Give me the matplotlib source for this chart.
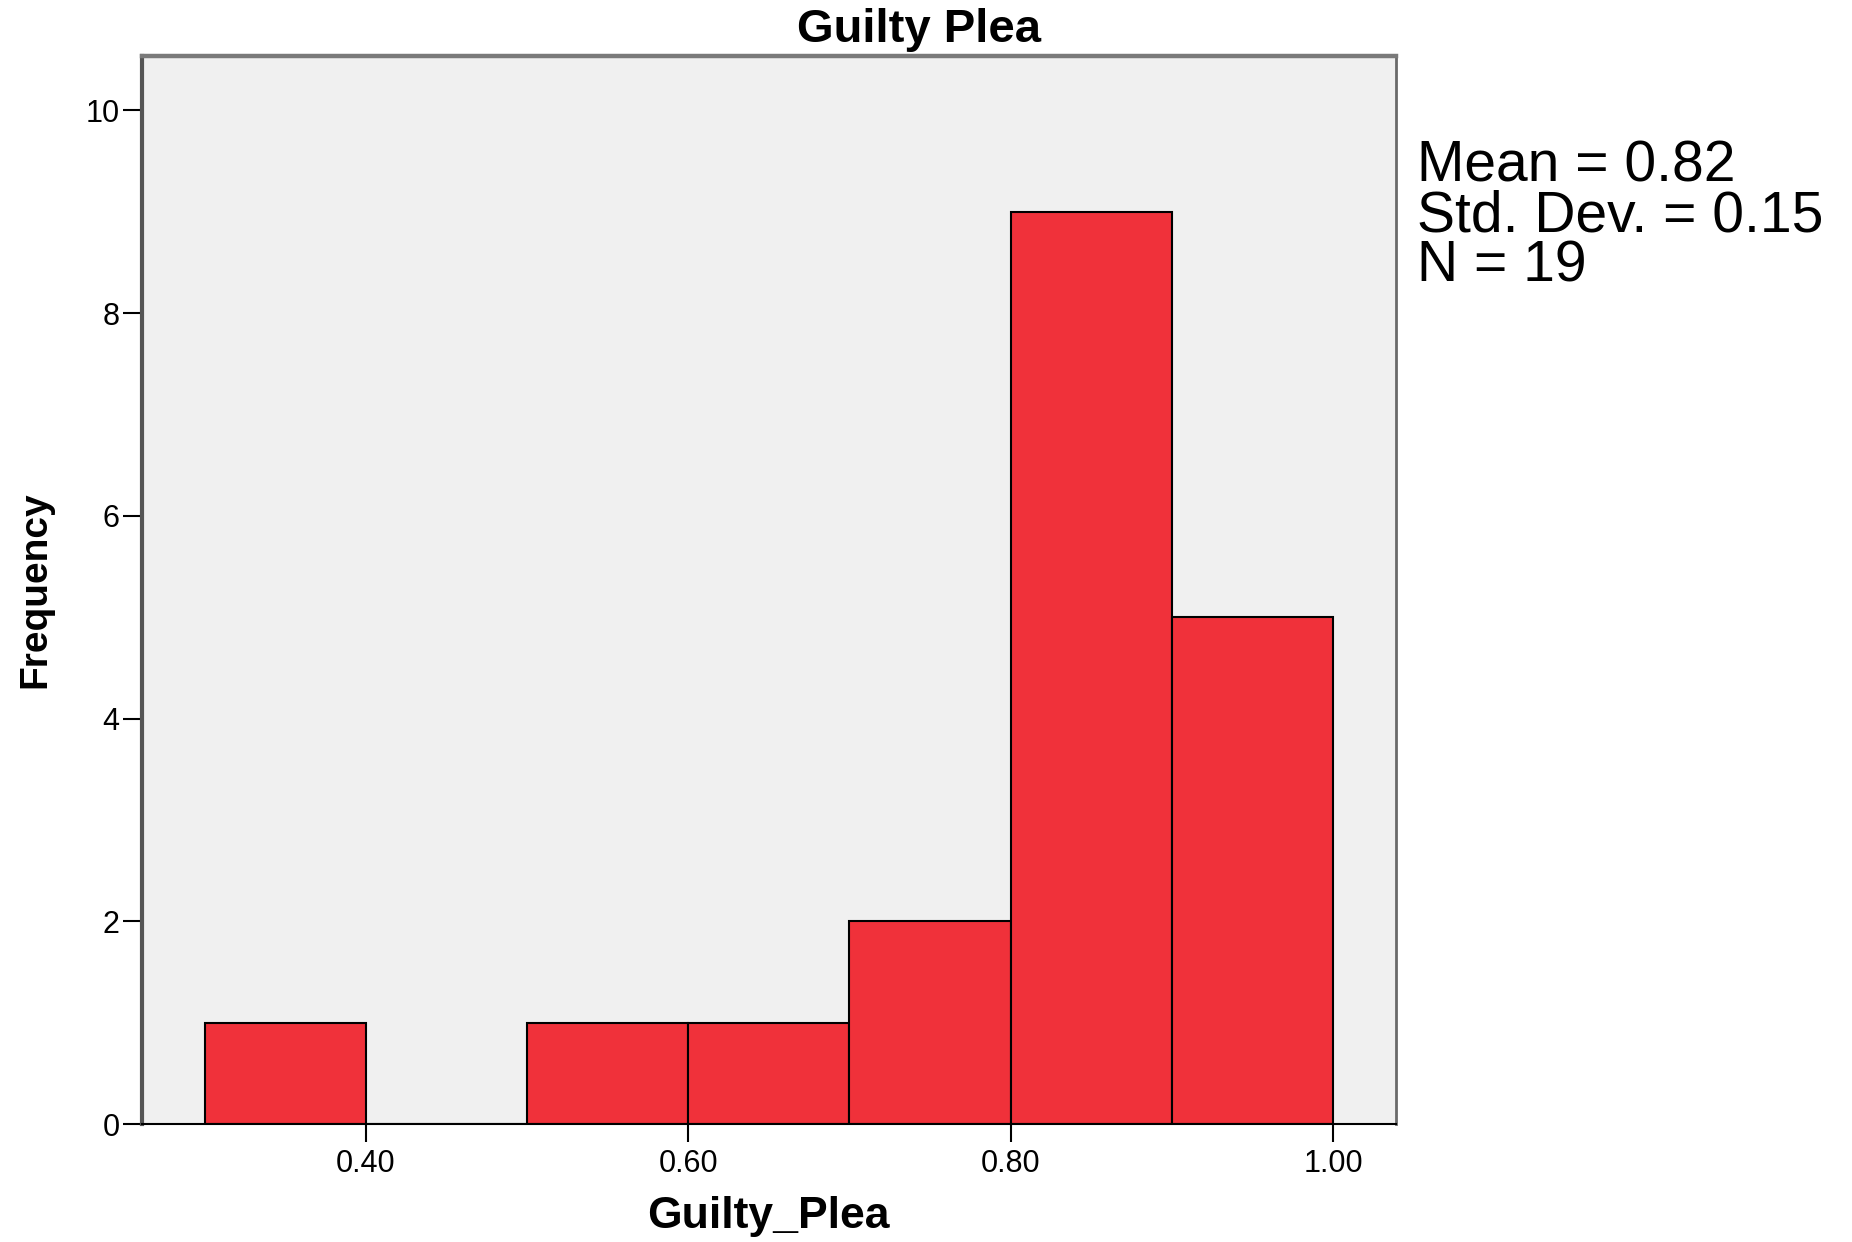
import matplotlib
matplotlib.use("Agg")
import matplotlib.pyplot as plt
from matplotlib.ticker import FormatStrFormatter

# histogram of Guilty_Plea
bin_edges = [0.3, 0.4, 0.5, 0.6, 0.7, 0.8, 0.9, 1.0]
counts = [1, 0, 1, 1, 2, 9, 5]
x_ticks = [0.40, 0.60, 0.80, 1.00]
y_ticks = [0, 2, 4, 6, 8, 10]
stats_lines = ["Mean = 0.82", "Std. Dev. = 0.15", "N = 19"]

plt.rcParams['font.family'] = ['Liberation Sans', 'DejaVu Sans']

fig = plt.figure(figsize=(18.52, 12.42), dpi=100)
ax = fig.add_axes([141.7 / 1852, 1 - 1124.3 / 1242, (1396 - 141.7) / 1852, (1124.3 - 55.5) / 1242])
ax.set_facecolor('#f0f0f0')

ax.hist(bin_edges[:-1], bins=bin_edges, weights=counts,
        color='#f0313a', edgecolor='black', linewidth=1.5, zorder=2)

ax.set_xlim(0.261, 1.039)
ax.set_ylim(0, 10.54)
ax.set_xticks(x_ticks)
ax.set_yticks(y_ticks)
ax.xaxis.set_major_formatter(FormatStrFormatter('%.2f'))
ax.tick_params(axis='x', length=13, width=1.5, pad=5, labelsize=22, color='black')
ax.tick_params(axis='y', length=14, width=1.5, pad=2, labelsize=22, color='black')

ax.spines['left'].set_color('#555555')
ax.spines['left'].set_linewidth(3)
ax.spines['top'].set_color('#7a7a7a')
ax.spines['top'].set_linewidth(3.2)
ax.spines['right'].set_color('#6a6a6a')
ax.spines['right'].set_linewidth(2)
ax.spines['bottom'].set_color('black')
ax.spines['bottom'].set_linewidth(1.5)

fig.text(919 / 1852, 1 - 42.5 / 1242, "Guilty Plea", fontsize=34, fontweight='bold',
         ha='center', va='baseline')
ax.set_xlabel("Guilty_Plea", fontsize=32, fontweight='bold', labelpad=12)
fig.text(35 / 1852, 0.525, "Frequency", fontsize=28, fontweight='bold',
         rotation=90, ha='center', va='center')

fig.text(1417 / 1852, 1 - 140 / 1242, "\n".join(stats_lines), fontsize=41,
         ha='left', va='top', linespacing=0.9)

fig.savefig("out.png", dpi=100)
